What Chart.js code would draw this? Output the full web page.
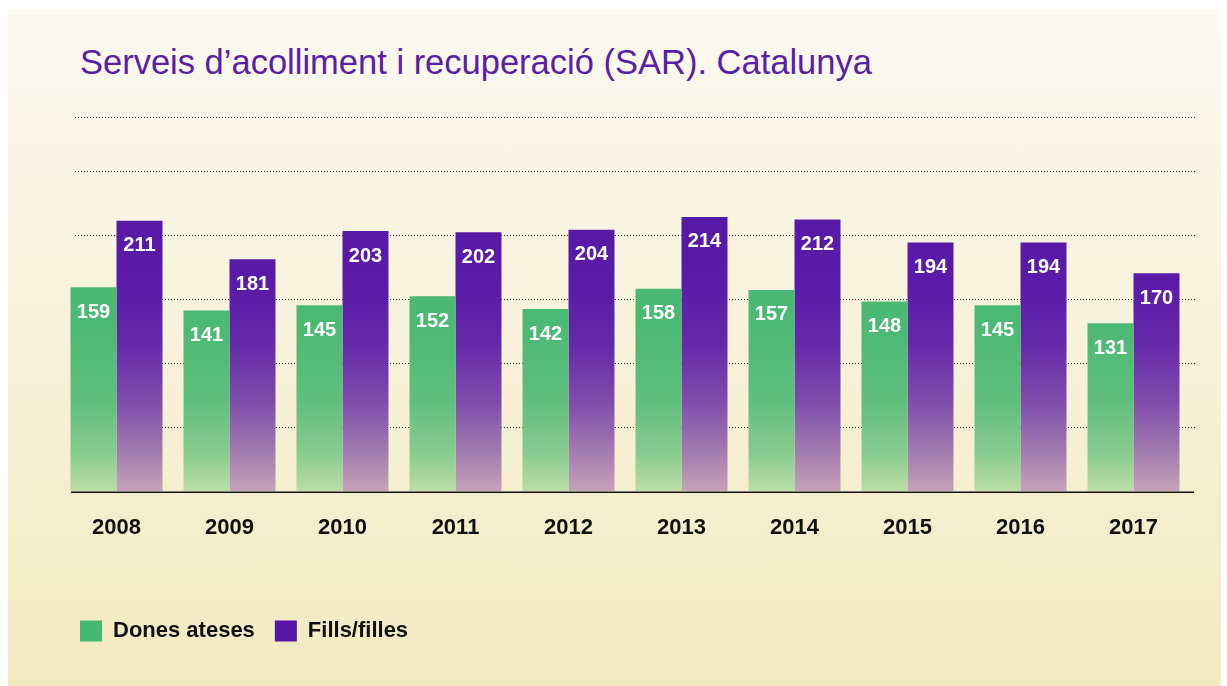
<!DOCTYPE html>
<html lang="ca">
<head>
  <meta charset="UTF-8">
  <title>Serveis d’acolliment i recuperació (SAR). Catalunya</title>
  <style>
    body {
      margin: 0;
      background: #ffffff;
      font-family: 'Liberation Sans', Arial, sans-serif;
    }
    .panel {
      position: absolute;
      left: 8px;
      top: 9px;
      width: 1213px;
      height: 677px;
      background: linear-gradient(#fbf9f1, #f3eac1);
    }
    h1 {
      position: absolute;
      left: 80px;
      top: 42px;
      margin: 0;
      font-size: 34.5px;
      line-height: 40px;
      font-weight: normal;
      color: #5a1ea8;
      white-space: nowrap;
    }
    .wrap {
      position: absolute;
      left: 0;
      top: 0;
      width: 1227px;
      height: 686px;
    }
  </style>
</head>
<body>
  <div class="panel"></div>
  <h1>Serveis d’acolliment i recuperació (SAR). Catalunya</h1>
  <div class="wrap"><canvas id="sarChart"></canvas></div>

  <script src="https://cdn.jsdelivr.net/npm/chart.js@4.4.1/dist/chart.umd.min.js"></script>
  <script>
    // data
    const years = ['2008', '2009', '2010', '2011', '2012', '2013', '2014', '2015', '2016', '2017'];
    const dones = [159, 141, 145, 152, 142, 158, 157, 148, 145, 131];
    const fills = [211, 181, 203, 202, 204, 214, 212, 194, 194, 170];
    const seriesNames = ['Dones ateses', 'Fills/filles'];
    const gridValues = [50, 100, 150, 200, 250, 292];
    const yMax = 292;

    const solidColors = ['#47b872', '#5716a6'];

    // vertical fades, fixed to the plot area
    function greenFade(ctx) {
      const area = ctx.chart.chartArea;
      if (!area) return solidColors[0];
      const g = ctx.chart.ctx.createLinearGradient(0, area.top, 0, area.bottom);
      g.addColorStop(0, '#47b872');
      g.addColorStop(0.55, '#4ab973');
      g.addColorStop(0.76, '#60bf7d');
      g.addColorStop(0.9, '#88cb8f');
      g.addColorStop(1, '#bcdda7');
      return g;
    }
    function purpleFade(ctx) {
      const area = ctx.chart.chartArea;
      if (!area) return solidColors[1];
      const g = ctx.chart.ctx.createLinearGradient(0, area.top, 0, area.bottom);
      g.addColorStop(0, '#5415a5');
      g.addColorStop(0.45, '#5a1ba8');
      g.addColorStop(0.6, '#6428aa');
      g.addColorStop(0.76, '#7f4cac');
      g.addColorStop(0.89, '#a07aae');
      g.addColorStop(1, '#c4a2b8');
      return g;
    }

    // dotted gridlines + solid baseline
    const gridPlugin = {
      id: 'dottedGrid',
      beforeDatasetsDraw(chart) {
        const {ctx, chartArea, scales} = chart;
        ctx.save();
        ctx.strokeStyle = '#2a2a2a';
        ctx.lineWidth = 1;
        ctx.setLineDash([1, 2]);
        gridValues.forEach(v => {
          const y = Math.round(scales.y.getPixelForValue(v)) + 0.5;
          ctx.beginPath();
          ctx.moveTo(chartArea.left + 15, y);
          ctx.lineTo(chartArea.right + 5, y);
          ctx.stroke();
        });
        ctx.restore();
      },
      afterDatasetsDraw(chart) {
        const {ctx, chartArea, scales} = chart;
        ctx.save();
        ctx.strokeStyle = '#111';
        ctx.lineWidth = 1.6;
        const y = scales.y.getPixelForValue(0) + 1.2;
        ctx.beginPath();
        ctx.moveTo(chartArea.left + 11, y);
        ctx.lineTo(chartArea.right + 4, y);
        ctx.stroke();
        ctx.restore();
      }
    };

    // white value labels inside the top of each bar
    const valuePlugin = {
      id: 'barValues',
      afterDatasetsDraw(chart) {
        const ctx = chart.ctx;
        ctx.save();
        ctx.fillStyle = '#ffffff';
        ctx.font = 'bold 20px "Liberation Sans", Arial, sans-serif';
        ctx.textAlign = 'center';
        ctx.textBaseline = 'middle';
        chart.data.datasets.forEach((ds, i) => {
          chart.getDatasetMeta(i).data.forEach((bar, j) => {
            ctx.fillText(String(ds.data[j]), bar.x, bar.y + 25);
          });
        });
        ctx.restore();
      }
    };

    Chart.defaults.font.family = "'Liberation Sans', Arial, sans-serif";

    new Chart(document.getElementById('sarChart'), {
      type: 'bar',
      data: {
        labels: years,
        datasets: [
          { label: seriesNames[0], data: dones, backgroundColor: greenFade, borderWidth: 0 },
          { label: seriesNames[1], data: fills, backgroundColor: purpleFade, borderWidth: 0 }
        ]
      },
      options: {
        responsive: true,
        maintainAspectRatio: false,
        animation: false,
        layout: { padding: { left: 60, right: 37, top: 117, bottom: 34 } },
        datasets: { bar: { categoryPercentage: 0.814, barPercentage: 1.0 } },
        plugins: {
          title: { display: false },
          tooltip: { enabled: false },
          legend: {
            position: 'bottom',
            align: 'start',
            labels: {
              boxWidth: 22,
              boxHeight: 21,
              padding: 20,
              color: '#111',
              font: { size: 22, weight: 'bold' },
              generateLabels(chart) {
                return Chart.defaults.plugins.legend.labels.generateLabels(chart).map((l, i) => ({
                  ...l, fillStyle: solidColors[i], strokeStyle: solidColors[i], lineWidth: 0
                }));
              }
            }
          }
        },
        scales: {
          x: {
            grid: { display: false, drawTicks: false },
            border: { display: false },
            ticks: { color: '#111', padding: 24, font: { size: 22, weight: 'bold' } },
            afterFit(scale) { scale.height = 109; }
          },
          y: {
            display: false,
            min: 0,
            max: yMax
          }
        }
      },
      plugins: [gridPlugin, valuePlugin]
    });
  </script>
</body>
</html>
